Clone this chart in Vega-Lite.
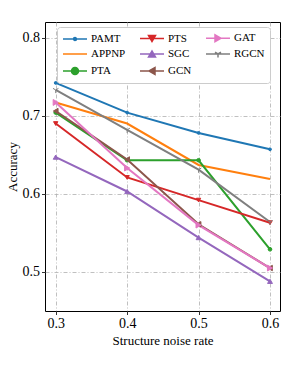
{
  "$schema": "https://vega.github.io/schema/vega-lite/v6.json",
  "width": 235,
  "height": 289,
  "autosize": {"type": "none"},
  "padding": {"left": 45, "top": 22, "right": 25, "bottom": 55},
  "background": "white",
  "config": {
    "font": "Liberation Serif",
    "view": {"stroke": "black", "strokeWidth": 1},
    "axis": {
      "domain": false,
      "tickColor": "black",
      "tickSize": 3.5,
      "tickWidth": 0.8,
      "labelFont": "Liberation Serif",
      "labelFontSize": 14,
      "labelColor": "black",
      "titleFont": "Liberation Serif",
      "titleFontSize": 13,
      "titleFontWeight": "normal",
      "titleColor": "black",
      "gridColor": "#b0b0b0",
      "gridDash": [4, 2, 1, 2],
      "gridWidth": 0.8
    }
  },
  "data": {
    "values": [
      {"model": "PAMT", "rate": 0.3, "acc": 0.742},
      {"model": "PAMT", "rate": 0.4, "acc": 0.704},
      {"model": "PAMT", "rate": 0.5, "acc": 0.678},
      {"model": "PAMT", "rate": 0.6, "acc": 0.657},
      {"model": "APPNP", "rate": 0.3, "acc": 0.717},
      {"model": "APPNP", "rate": 0.4, "acc": 0.690},
      {"model": "APPNP", "rate": 0.5, "acc": 0.637},
      {"model": "APPNP", "rate": 0.6, "acc": 0.619},
      {"model": "PTA", "rate": 0.3, "acc": 0.704},
      {"model": "PTA", "rate": 0.4, "acc": 0.643},
      {"model": "PTA", "rate": 0.5, "acc": 0.643},
      {"model": "PTA", "rate": 0.6, "acc": 0.529},
      {"model": "PTS", "rate": 0.3, "acc": 0.690},
      {"model": "PTS", "rate": 0.4, "acc": 0.621},
      {"model": "PTS", "rate": 0.5, "acc": 0.592},
      {"model": "PTS", "rate": 0.6, "acc": 0.563},
      {"model": "SGC", "rate": 0.3, "acc": 0.647},
      {"model": "SGC", "rate": 0.4, "acc": 0.603},
      {"model": "SGC", "rate": 0.5, "acc": 0.544},
      {"model": "SGC", "rate": 0.6, "acc": 0.488},
      {"model": "GCN", "rate": 0.3, "acc": 0.706},
      {"model": "GCN", "rate": 0.4, "acc": 0.644},
      {"model": "GCN", "rate": 0.5, "acc": 0.561},
      {"model": "GCN", "rate": 0.6, "acc": 0.505},
      {"model": "GAT", "rate": 0.3, "acc": 0.717},
      {"model": "GAT", "rate": 0.4, "acc": 0.633},
      {"model": "GAT", "rate": 0.5, "acc": 0.560},
      {"model": "GAT", "rate": 0.6, "acc": 0.505},
      {"model": "RGCN", "rate": 0.3, "acc": 0.733},
      {"model": "RGCN", "rate": 0.4, "acc": 0.682},
      {"model": "RGCN", "rate": 0.5, "acc": 0.631},
      {"model": "RGCN", "rate": 0.6, "acc": 0.564}
    ]
  },
  "encoding": {
    "x": {
      "field": "rate",
      "type": "quantitative",
      "title": "Structure noise rate",
      "scale": {"domain": [0.285, 0.614], "nice": false, "zero": false},
      "axis": {"values": [0.3, 0.4, 0.5, 0.6], "format": ".1f", "labelPadding": 2, "titlePadding": 4}
    },
    "y": {
      "field": "acc",
      "type": "quantitative",
      "title": "Accuracy",
      "scale": {"domain": [0.45, 0.82], "nice": false, "zero": false},
      "axis": {"values": [0.5, 0.6, 0.7, 0.8], "format": ".1f", "labelPadding": 2, "titlePadding": 3}
    }
  },
  "layer": [
    {
      "mark": {"type": "line", "strokeWidth": 2},
      "encoding": {
        "color": {
          "field": "model",
          "type": "nominal",
          "scale": {
            "domain": ["PAMT", "APPNP", "PTA", "PTS", "SGC", "GCN", "GAT", "RGCN"],
            "range": ["#1f77b4", "#ff7f0e", "#2ca02c", "#d62728", "#9467bd", "#8c564b", "#e377c2", "#7f7f7f"]
          },
          "legend": {
            "title": null,
            "orient": "none",
            "legendX": 12,
            "legendY": 5,
            "columns": 3,
            "columnPadding": 11,
            "rowPadding": 3,
            "symbolSize": 100,
            "labelOffset": 17,
            "labelFont": "Liberation Serif",
            "labelFontSize": 11,
            "labelColor": "black",
            "labelLimit": 0,
            "fillColor": "white",
            "strokeColor": "#cccccc",
            "cornerRadius": 3,
            "padding": 5,
            "encode": {
              "symbols": {
                "update": {
                  "shape": {"signal": "datum.value==='PAMT' ? 'M-1,0H3.8M1.1,0A0.3,0.3 0 1,0 1.7,0A0.3,0.3 0 1,0 1.1,0Z' : datum.value==='APPNP' ? 'M-1,0H3.8' : datum.value==='PTA' ? 'M-1,0H3.8M0.7,0A0.7,0.7 0 1,0 2.1,0A0.7,0.7 0 1,0 0.7,0Z' : datum.value==='PTS' ? 'M-1,0H3.8M0.7,-0.6L2.1,-0.6L1.4,0.6Z' : datum.value==='SGC' ? 'M-1,0H3.8M0.7,0.6L2.1,0.6L1.4,-0.6Z' : datum.value==='GCN' ? 'M-1,0H3.8M0.8,0L2,-0.7L2,0.7Z' : datum.value==='GAT' ? 'M-1,0H3.8M0.8,-0.7L0.8,0.7L2,0Z' : 'M-1,0H3.8M1.4,0V0.7M1.4,0L0.8,-0.35M1.4,0L2,-0.35'"},
                  "fill": {"scale": "color", "field": "value"},
                  "stroke": {"scale": "color", "field": "value"},
                  "strokeWidth": {"value": 1.5},
                  "size": {"value": 100},
                  "opacity": {"value": 1}
                }
              }
            }
          }
        }
      }
    },
    {
      "transform": [{"filter": "datum.model != 'APPNP'"}],
      "mark": {"type": "point", "filled": true, "opacity": 1, "strokeWidth": 1},
      "encoding": {
        "fill": {
          "field": "model",
          "type": "nominal",
          "scale": {
            "domain": ["PAMT", "PTA", "PTS", "SGC", "GCN", "GAT", "RGCN"],
            "range": ["#1f77b4", "#2ca02c", "#d62728", "#9467bd", "#8c564b", "#e377c2", "#7f7f7f"]
          },
          "legend": null
        },
        "stroke": {
          "field": "model",
          "type": "nominal",
          "scale": {
            "domain": ["PAMT", "PTA", "PTS", "SGC", "GCN", "GAT", "RGCN"],
            "range": ["#1f77b4", "#2ca02c", "#d62728", "#9467bd", "#8c564b", "#e377c2", "#7f7f7f"]
          },
          "legend": null
        },
        "shape": {
          "field": "model",
          "type": "nominal",
          "scale": {
            "domain": ["PAMT", "PTA", "PTS", "SGC", "GCN", "GAT", "RGCN"],
            "range": ["circle", "circle", "triangle-down", "triangle-up", "triangle-left", "triangle-right", "M0,0V1M0,0L-0.866,-0.5M0,0L0.866,-0.5"]
          },
          "legend": null
        },
        "size": {
          "field": "model",
          "type": "nominal",
          "scale": {
            "domain": ["PAMT", "PTA", "PTS", "SGC", "GCN", "GAT", "RGCN"],
            "range": [8, 40, 40, 40, 40, 40, 30]
          },
          "legend": null
        }
      }
    }
  ]
}
